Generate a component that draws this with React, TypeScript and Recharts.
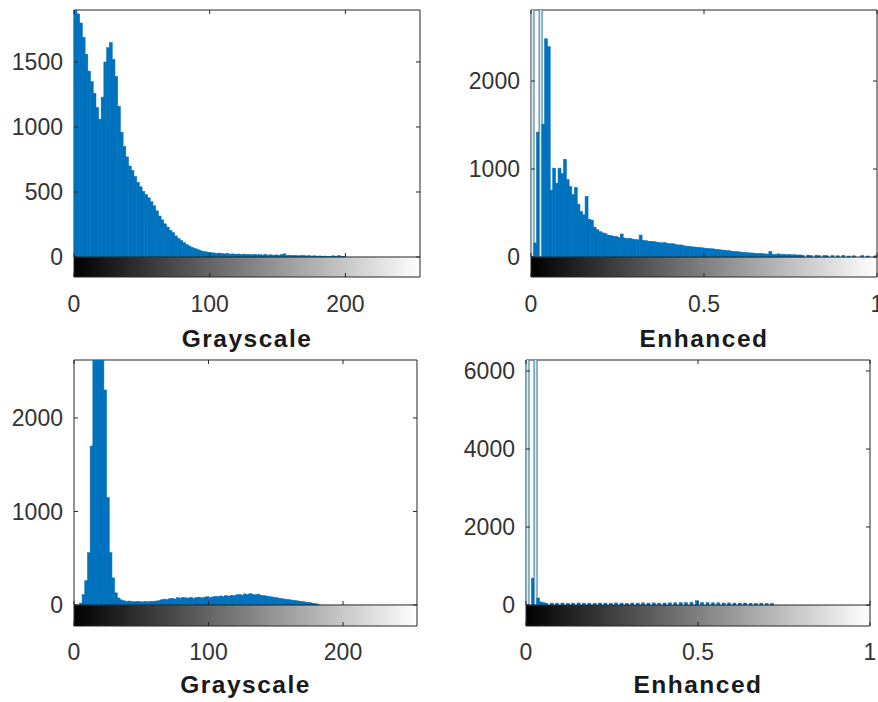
import React from 'react';
import { BarChart, Bar, XAxis, YAxis, ReferenceArea, ReferenceLine } from 'recharts';

// imhist counts, 128 bins per panel
// (grayscale: 2 grey levels per bin, enhanced: 1/128 of [0, 1] per bin)
const grayscaleTop = [
  1950, 1870, 1800, 1690, 1560, 1430, 1350, 1260, 1150, 1060, 1230, 1500, 1610, 1650, 1520, 1390,
  1160, 960, 850, 770, 700, 665, 620, 575, 540, 505, 480, 455, 425, 395, 355, 315,
  285, 255, 230, 205, 188, 162, 142, 126, 110, 96, 84, 74, 66, 58, 50, 44,
  40, 36, 33, 31, 28, 30, 26, 24, 27, 22, 24, 21, 23, 19, 22, 18,
  20, 17, 21, 16, 18, 15, 19, 14, 17, 13, 16, 14, 18, 24, 12, 14,
  10, 13, 9, 11, 12, 8, 10, 7, 9, 6, 8, 5, 7, 4, 6, 9,
  3, 10, 2, 5, 0, 0, 0, 0, 0, 0, 0, 0, 0, 0, 0, 0,
  0, 0, 0, 0, 0, 0, 0, 0, 0, 0, 0, 0, 0, 0, 0, 0,
];

const enhancedTop = [
  3200, 160, 1420, 3200, 1510, 2480, 2390, 760, 1010, 840, 1010, 950, 1110, 880, 800, 710,
  790, 600, 520, 480, 690, 430, 420, 340, 310, 290, 275, 265, 250, 245, 236, 232,
  222, 262, 216, 210, 214, 204, 200, 196, 250, 190, 186, 180, 178, 174, 170, 166,
  160, 164, 154, 150, 152, 142, 136, 138, 128, 124, 122, 116, 114, 110, 108, 104,
  100, 98, 94, 92, 88, 84, 80, 78, 74, 70, 66, 62, 60, 56, 54, 50,
  48, 46, 44, 42, 40, 38, 36, 34, 62, 32, 30, 36, 28, 30, 26, 28,
  24, 26, 22, 24, 20, 0, 22, 18, 0, 20, 16, 0, 18, 14, 0, 16,
  0, 14, 0, 18, 0, 12, 0, 14, 0, 0, 16, 0, 12, 0, 0, 14,
];

const grayscaleBottom = [
  0, 0, 20, 110, 260, 560, 1700, 2900, 3000, 3000, 2950, 2300, 1150, 560, 290, 130,
  75, 55, 45, 38, 42, 36, 34, 38, 35, 33, 37, 34, 40, 38, 42, 45,
  55, 62, 58, 66, 72, 64, 78, 70, 82, 76, 74, 80, 72, 78, 84, 76,
  82, 88, 80, 86, 92, 88, 96, 90, 100, 94, 104, 98, 108, 112, 104, 118,
  110, 120, 114, 108, 116, 104, 100, 96, 90, 86, 80, 76, 72, 66, 62, 58,
  54, 50, 46, 42, 38, 34, 30, 26, 20, 16, 10, 0, 0, 0, 0, 0,
  0, 0, 0, 0, 0, 0, 0, 0, 0, 0, 0, 0, 0, 0, 0, 0,
  0, 0, 0, 0, 0, 0, 0, 0, 0, 0, 0, 0, 0, 0, 0, 0,
];

const enhancedBottom = [
  7000, 0, 690, 7000, 180, 80, 60, 45, 0, 50, 0, 48, 0, 52, 0, 46,
  0, 50, 0, 54, 0, 48, 0, 50, 0, 46, 0, 52, 0, 50, 0, 48,
  0, 54, 0, 50, 0, 46, 0, 52, 0, 50, 0, 56, 0, 50, 0, 54,
  0, 48, 0, 52, 0, 56, 0, 58, 0, 60, 0, 62, 0, 70, 0, 110,
  0, 64, 0, 60, 0, 58, 0, 56, 0, 52, 0, 54, 0, 50, 0, 48,
  0, 52, 0, 46, 0, 44, 0, 48, 0, 40, 0, 42, 0, 0, 0, 0,
  0, 0, 0, 0, 0, 0, 0, 0, 0, 0, 0, 0, 0, 0, 0, 0,
  0, 0, 0, 0, 0, 0, 0, 0, 0, 0, 0, 0, 0, 0, 0, 0,
];

const grayTicks = [0, 100, 200];
const unitTicks = [0, 0.5, 1];
const grayTopYTicks = [0, 500, 1000, 1500];
const enhTopYTicks = [0, 1000, 2000];
const grayBottomYTicks = [0, 1000, 2000];
const enhBottomYTicks = [0, 2000, 4000, 6000];

const BLUE = '#0072bd';
const AXIS = '#262626';
const FONT = '"Liberation Sans", Arial, Helvetica, sans-serif';
const PAD_TOP = 14;
const PAD_RIGHT = 12;

const toRows = (counts: number[], binWidth: number) =>
  counts.map((v, i) => ({ x: (i + 0.5) * binWidth, v }));

type PanelProps = {
  id: string;
  counts: number[];
  binWidth: number;
  xDomain: [number, number];
  xTicks: number[];
  yDomain: [number, number];
  yTicks: number[];
  label: string;
  outlineClipped: boolean;
  left: number;
  top: number;
  axisW: number;
  plotW: number;
  plotH: number;
  axisH: number;
  tickDy: number;
  labelDy: number;
};

function Panel(p: PanelProps) {
  const rows = toRows(p.counts, p.binWidth);
  const [x0, x1] = p.xDomain;
  const [y0, y1] = p.yDomain;
  // 4px tick marks, in data units
  const tx = ((x1 - x0) * 4) / p.plotW;
  const ty = ((y1 - y0) * 4) / p.plotH;

  const barShape = (b: any) => {
    if (!b.height || b.height <= 0) return <g />;
    if (p.outlineClipped && b.payload.v > y1) {
      // thin stems that run past the top of the axes
      return <rect x={b.x} y={b.y} width={b.width} height={b.height} fill="#d4f1f9" stroke="#2b5f80" strokeWidth={0.9} />;
    }
    return <rect x={b.x} y={b.y} width={b.width} height={b.height} fill={BLUE} stroke={BLUE} strokeWidth={0.5} />;
  };

  return (
    <div style={{ position: 'absolute', left: p.left, top: p.top - PAD_TOP }}>
      <BarChart
        width={p.axisW + p.plotW + PAD_RIGHT}
        height={PAD_TOP + p.plotH + p.axisH}
        data={rows}
        margin={{ top: PAD_TOP, right: PAD_RIGHT, bottom: 0, left: 0 }}
        barCategoryGap={0}
        barGap={0}
      >
        <defs>
          <linearGradient id={p.id} x1="0" y1="0" x2="1" y2="0">
            <stop offset="0%" stopColor="#000" />
            <stop offset="100%" stopColor="#fff" />
          </linearGradient>
        </defs>
        <XAxis
          type="number"
          dataKey="x"
          domain={p.xDomain}
          ticks={p.xTicks}
          interval={0}
          allowDataOverflow
          height={p.axisH}
          axisLine={false}
          tickLine={false}
          tickSize={0}
          tickMargin={0}
          tick={(t: any) => (
            <text x={t.x} y={t.y + p.tickDy} textAnchor="middle" fontSize={23} fill="#333" fontFamily={FONT}>
              {String(t.payload.value)}
            </text>
          )}
          label={{
            value: p.label,
            content: (l: any) => (
              <text
                x={l.viewBox.x + l.viewBox.width / 2}
                y={l.viewBox.y + p.labelDy}
                textAnchor="middle"
                fontSize={24.5}
                fontWeight={700}
                letterSpacing={1.5}
                fill="#1a1a1a"
                fontFamily={FONT}
              >
                {p.label}
              </text>
            ),
          }}
        />
        <YAxis
          type="number"
          domain={p.yDomain}
          ticks={p.yTicks}
          interval={0}
          allowDataOverflow
          width={p.axisW}
          axisLine={false}
          tickLine={false}
          tickSize={0}
          tickMargin={0}
          tick={(t: any) => (
            <text x={t.x - 11} y={t.y} dy="0.36em" textAnchor="end" fontSize={23} fill="#333" fontFamily={FONT}>
              {String(t.payload.value)}
            </text>
          )}
        />
        <ReferenceArea x1={x0} x2={x1} y1={y0} y2={0} fill={`url(#${p.id})`} fillOpacity={1} stroke="none" ifOverflow="visible" />
        <Bar dataKey="v" isAnimationActive={false} shape={barShape} />
        <ReferenceLine y={0} stroke={AXIS} strokeWidth={1} ifOverflow="visible" />
        <ReferenceArea x1={x0} x2={x1} y1={y0} y2={y1} fill="none" fillOpacity={0} stroke={AXIS} strokeWidth={1} ifOverflow="visible" />
        {p.yTicks.map((t) => (
          <ReferenceLine key={'l' + t} segment={[{ x: x0, y: t }, { x: x0 + tx, y: t }]} stroke={AXIS} ifOverflow="visible" />
        ))}
        {p.yTicks.map((t) => (
          <ReferenceLine key={'r' + t} segment={[{ x: x1, y: t }, { x: x1 - tx, y: t }]} stroke={AXIS} ifOverflow="visible" />
        ))}
        {p.xTicks.map((t) => (
          <ReferenceLine key={'t' + t} segment={[{ x: t, y: y1 }, { x: t, y: y1 - ty }]} stroke={AXIS} ifOverflow="visible" />
        ))}
        {p.xTicks.map((t) => (
          <ReferenceLine key={'z' + t} segment={[{ x: t, y: 0 }, { x: t, y: ty }]} stroke={AXIS} ifOverflow="visible" />
        ))}
        {p.xTicks.map((t) => (
          <ReferenceLine key={'b' + t} segment={[{ x: t, y: y0 }, { x: t, y: y0 + ty }]} stroke={AXIS} ifOverflow="visible" />
        ))}
      </BarChart>
    </div>
  );
}

export default function App() {
  return (
    <div style={{ position: 'absolute', left: 0, top: 0, width: 878, height: 702, background: '#fff', overflow: 'hidden' }}>
      <Panel
        id="gradA" counts={grayscaleTop} binWidth={2} xDomain={[0, 255]} xTicks={grayTicks}
        yDomain={[-154, 1900]} yTicks={grayTopYTicks} label="Grayscale" outlineClipped={false}
        left={0} top={10} axisW={74} plotW={346} plotH={267} axisH={80} tickDy={35} labelDy={70}
      />
      <Panel
        id="gradB" counts={enhancedTop} binWidth={1 / 128} xDomain={[0, 1]} xTicks={unitTicks}
        yDomain={[-227, 2807]} yTicks={enhTopYTicks} label="Enhanced" outlineClipped
        left={440} top={10} axisW={91} plotW={346} plotH={267} axisH={80} tickDy={35} labelDy={70}
      />
      <Panel
        id="gradC" counts={grayscaleBottom} binWidth={2} xDomain={[0, 255]} xTicks={grayTicks}
        yDomain={[-225, 2620]} yTicks={grayBottomYTicks} label="Grayscale" outlineClipped={false}
        left={0} top={360} axisW={74} plotW={343} plotH={266} axisH={76} tickDy={34} labelDy={67}
      />
      <Panel
        id="gradD" counts={enhancedBottom} binWidth={1 / 128} xDomain={[0, 1]} xTicks={unitTicks}
        yDomain={[-538, 6282]} yTicks={enhBottomYTicks} label="Enhanced" outlineClipped
        left={440} top={360} axisW={86} plotW={344} plotH={266} axisH={76} tickDy={34} labelDy={67}
      />
    </div>
  );
}
